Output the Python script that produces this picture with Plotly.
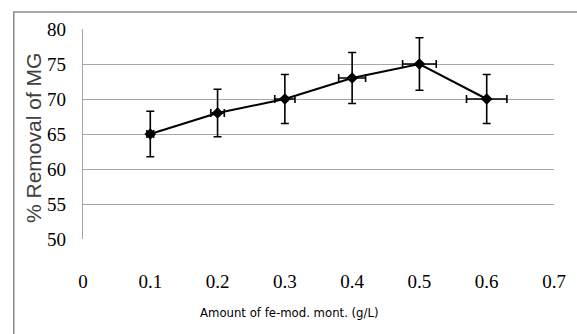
import plotly.graph_objects as go

# Adsorbent dose vs. % removal of malachite green (MG)
dose = [0.1, 0.2, 0.3, 0.4, 0.5, 0.6]
removal = [65, 68, 70, 73, 75, 70]
removal_err = [3.25, 3.4, 3.5, 3.65, 3.75, 3.5]
dose_err = [0.005, 0.01, 0.015, 0.02, 0.025, 0.03]

x_ticks = [0, 0.1, 0.2, 0.3, 0.4, 0.5, 0.6, 0.7]
x_tick_text = ["0", "0.1", "0.2", "0.3", "0.4", "0.5", "0.6", "0.7"]
y_ticks = [50, 55, 60, 65, 70, 75, 80]

fig = go.Figure()
fig.add_trace(go.Scatter(
    x=dose, y=removal,
    mode="lines+markers",
    line=dict(color="black", width=2),
    marker=dict(symbol="diamond", size=9, color="black"),
    error_y=dict(type="data", array=removal_err, color="black", thickness=1.6, width=4),
    error_x=dict(type="data", array=dose_err, color="black", thickness=1.6, width=4),
    showlegend=False,
))

serif = "Liberation Serif, Times New Roman, serif"
fig.update_layout(
    width=577, height=334,
    margin=dict(l=83, r=11, t=29, b=95),
    paper_bgcolor="white", plot_bgcolor="white",
    xaxis=dict(
        range=[0, 0.7], tickvals=x_ticks, ticktext=x_tick_text,
        showgrid=False, zeroline=False, showline=False, ticks="",
        tickfont=dict(family=serif, size=19, color="black"),
        ticklabelstandoff=29, ticklabeloverflow="allow",
    ),
    yaxis=dict(
        range=[50, 80], tickvals=y_ticks,
        showgrid=True, gridcolor="#a6a6a6", gridwidth=1.3,
        zeroline=False, showline=True, linecolor="#a6a6a6", linewidth=1.3,
        ticks="", tickfont=dict(family=serif, size=19, color="black"),
        ticklabelstandoff=12,
    ),
    annotations=[
        dict(text="Amount of fe-mod. mont. (g/L)", xref="paper", yref="paper",
             x=0.439, y=-0.35, xanchor="center", yanchor="middle", showarrow=False,
             font=dict(family="Liberation Sans Narrow, DejaVu Sans Condensed, Roboto, sans-serif",
                       size=13, color="black")),
        dict(text="% Removal of MG", xref="paper", yref="paper",
             x=-0.1066, y=0.48, xanchor="center", yanchor="middle", showarrow=False,
             textangle=-90,
             font=dict(family="Liberation Sans, Arial, sans-serif", size=21, color="#404040")),
    ],
    shapes=[
        dict(type="rect", xref="paper", yref="paper",
             x0=-0.147, x1=1.06, y0=-0.7, y1=1.081,
             line=dict(color="#8c8c8c", width=1.5)),
    ],
)

fig.write_html("out.html")
